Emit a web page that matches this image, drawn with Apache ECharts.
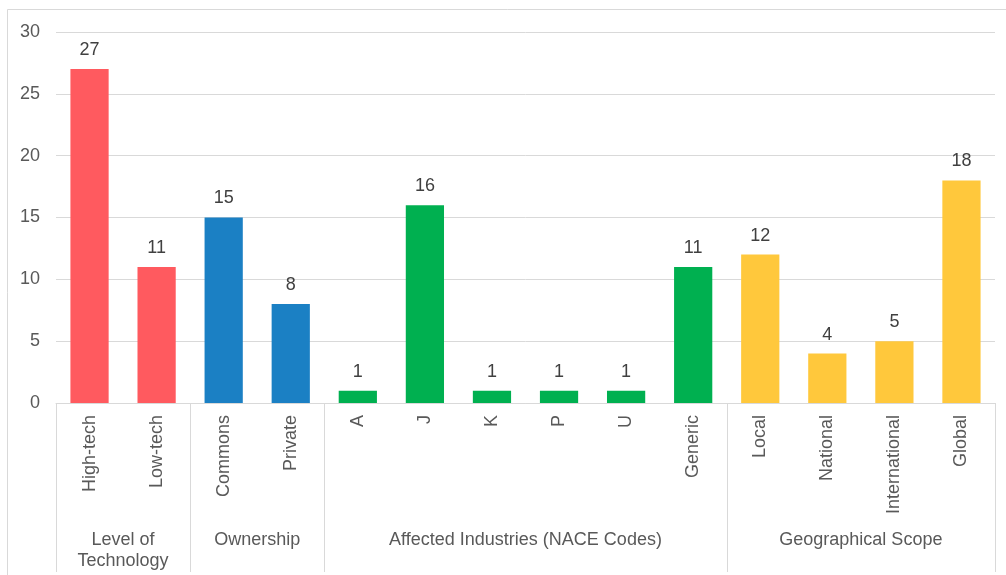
<!DOCTYPE html>
<html>
<head>
<meta charset="utf-8">
<script src="https://cdn.jsdelivr.net/npm/echarts@6/dist/echarts.min.js"></script>
<style>
html,body{margin:0;padding:0;background:#fff;}
#c{width:1006px;height:575px;}
</style>
</head>
<body>
<div id="c"></div>
<script>
var categories = ['High-tech','Low-tech','Commons','Private','A','J','K','P','U','Generic','Local','National','International','Global'];
var values = [27, 11, 15, 8, 1, 16, 1, 1, 1, 11, 12, 4, 5, 18];
var groupNames = ['Level of\nTechnology', 'Ownership', 'Affected Industries (NACE Codes)', 'Geographical Scope'];
var groupSizes = [2, 2, 6, 4];
var groupColors = ['#FF5A5F', '#1B80C4', '#00B050', '#FFC83C'];
var yTicks = [0, 5, 10, 15, 20, 25, 30];

var FONT = '"Liberation Sans", Arial, sans-serif';
var catColors = [];
groupSizes.forEach(function (n, g) { for (var i = 0; i < n; i++) catColors.push(groupColors[g]); });

var chart = echarts.init(document.getElementById('c'), null, {renderer: 'canvas'});
var option = {
  animation: false,
  backgroundColor: '#fff',
  grid: {left: 56, right: 11, top: 32, bottom: 172, containLabel: false},
  xAxis: {
    type: 'category',
    data: categories,
    axisLine: {show: true, lineStyle: {color: '#D9D9D9', width: 1}},
    axisTick: {show: false},
    axisLabel: {rotate: 90, margin: 12, color: '#595959', fontSize: 18, fontFamily: FONT, interval: 0}
  },
  yAxis: {
    type: 'value',
    min: yTicks[0], max: yTicks[yTicks.length - 1], interval: yTicks[1] - yTicks[0],
    axisLine: {show: false},
    axisTick: {show: false},
    axisLabel: {margin: 16, color: '#595959', fontSize: 18, fontFamily: FONT},
    splitLine: {lineStyle: {color: '#D9D9D9', width: 1}}
  },
  series: [{
    type: 'bar',
    barWidth: '57%',
    data: values.map(function (v, i) { return {value: v, itemStyle: {color: catColors[i]}}; }),
    label: {show: true, position: 'top', distance: 10, color: '#404040', fontSize: 18, fontFamily: FONT}
  }]
};
chart.setOption(option);

function drawExtras() {
  var c0 = chart.convertToPixel({xAxisIndex: 0}, categories[0]);
  var c1 = chart.convertToPixel({xAxisIndex: 0}, categories[1]);
  var band = c1 - c0;
  var y0 = chart.convertToPixel({yAxisIndex: 0}, 0);
  var bottomY = 572;
  var elements = [];
  elements.push({
    type: 'rect', silent: true, z: -10,
    shape: {x: 7.5, y: 9.5, width: 1010, height: 580},
    style: {fill: 'none', stroke: '#D9D9D9', lineWidth: 1}
  });
  var idx = 0;
  var boundaries = [c0 - band / 2];
  groupSizes.forEach(function (n, g) {
    var left = c0 - band / 2 + idx * band;
    var right = left + n * band;
    boundaries.push(right);
    elements.push({
      type: 'text', silent: true,
      x: (left + right) / 2, y: 530,
      style: {text: groupNames[g], fill: '#595959', fontSize: 18, fontFamily: FONT, align: 'center', verticalAlign: 'top', lineHeight: 21}
    });
    idx += n;
  });
  boundaries.forEach(function (bx) {
    var x = Math.round(bx) + 0.5;
    elements.push({
      type: 'line', silent: true,
      shape: {x1: x, y1: y0, x2: x, y2: bottomY},
      style: {stroke: '#D9D9D9', lineWidth: 1}
    });
  });
  chart.setOption({graphic: elements});
}
drawExtras();
</script>
</body>
</html>
